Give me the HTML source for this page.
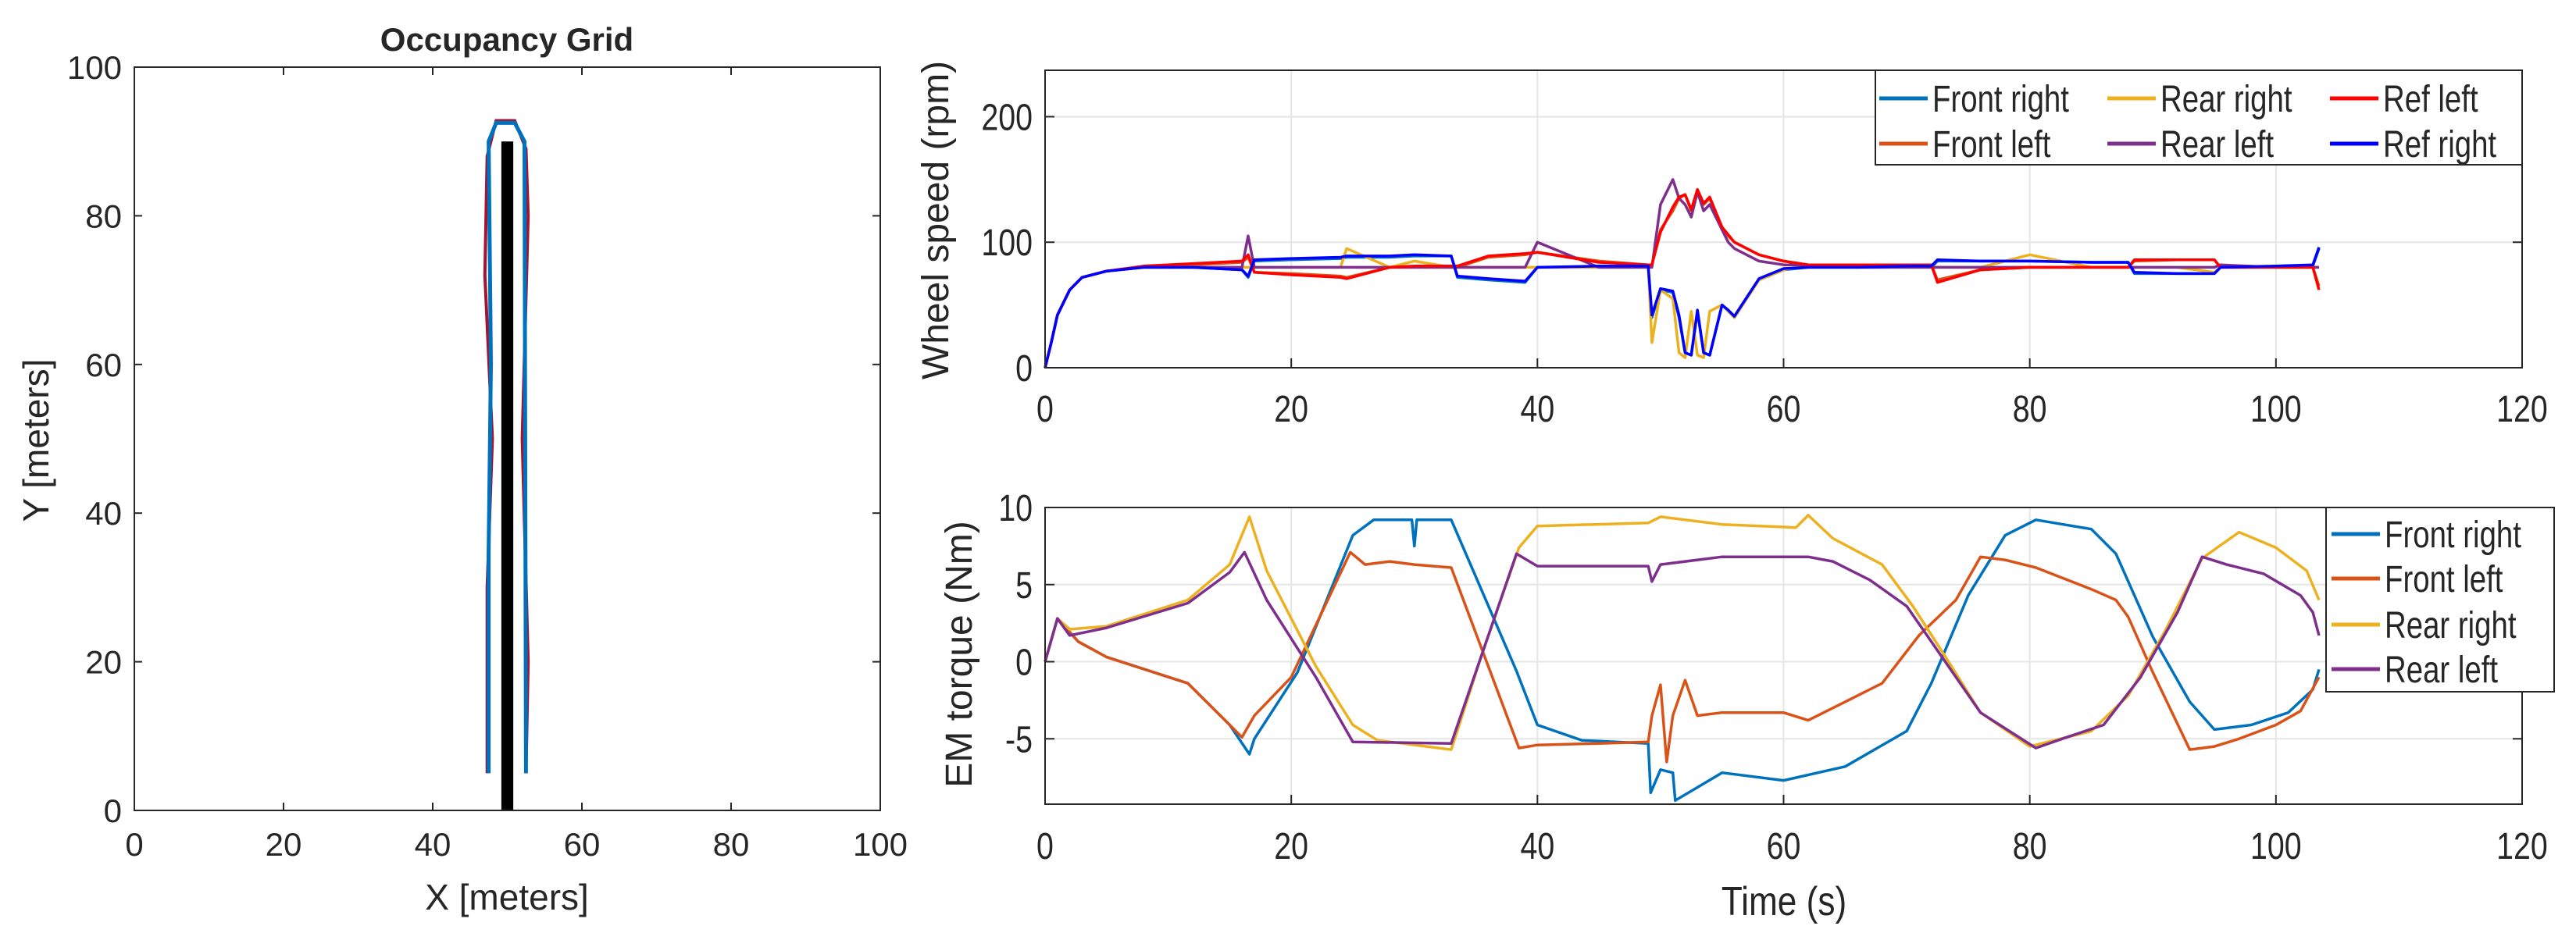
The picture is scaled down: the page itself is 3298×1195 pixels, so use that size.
<!DOCTYPE html>
<html><head><meta charset="utf-8">
<style>html,body{margin:0;padding:0;background:#fff;}svg{display:block;}
text{font-family:"Liberation Sans",Arial,sans-serif;fill:#262626;}</style></head>
<body>
<svg id="fig" width="3298" height="1195" viewBox="0 0 3298 1195" xmlns="http://www.w3.org/2000/svg">
<rect width="3298" height="1195" fill="#fff"/>
<g id="occ"></g>
<g id="ws"></g>
<g id="tq"></g>
</svg>
<script>
// ---------- Occupancy grid data ----------
const occTicks = [0,20,40,60,80,100];
const obstacleX = [49.2,50.8]; const obstacleY = [0,90];
const bluePathX = [47.5,47.5,47.8,47.5,48.5,51,52.3,52.4,52.5];
const bluePathY = [5,35,60,90,92.5,92.5,90,50,5];
const redPathX = [47.3,47.3,48,47,47.3,48.5,51,52.5,52.8,52,52.8,52.5];
const redPathY = [5,30,50,72,88,92.8,92.8,89,80,50,20,5];

// ---------- Wheel speed data ----------
const wsTicksX = [0,20,40,60,80,100,120];
const wsTicksY = [0,100,200];
const wsTime = [0,0.5,1,2,3,5,8,12,16,16.5,17,20,24,24.5,28,30,33,33.5,36,39,40,45,49,49.3,50,51,51.5,52,52.5,53,53.5,54,55,55.5,56,58,60,62,66,70,72,72.5,76,80,85,88,88.5,92,95,95.5,100,103,103.5];
const wsFrontRight = [0,20,42,62,72,77,80,80,78,72,85,86,87,88,88,89,89,72,70,68,80,80,80,40,62,60,40,12,10,45,12,10,50,45,40,70,78,80,80,80,80,85,85,85,84,84,75,75,75,80,80,81,95];
const wsRefRight   = [0,20,42,62,72,77,80,80,78,73,86,87,88,89,89,90,89,73,71,69,80,81,81,42,63,61,42,12,10,46,12,10,50,46,41,71,79,80,80,81,81,86,85,85,84,84,76,75,75,80,81,82,96];
const wsFrontLeft  = [0,20,42,62,72,77,80,82,84,88,76,75,73,72,80,80,80,80,88,90,92,85,82,82,110,125,135,138,125,140,130,135,110,105,100,90,85,82,82,82,82,70,78,80,80,80,85,86,86,80,80,80,65];
const wsRefLeft    = [0,20,42,62,72,77,81,83,85,90,76,74,72,71,80,81,81,81,89,91,92,84,82,82,108,128,136,138,126,142,131,136,112,106,100,90,85,82,82,82,82,68,78,80,80,80,86,86,86,80,80,80,62];
const wsRearRight  = [0,20,42,62,72,77,80,80,80,80,80,80,80,95,80,85,80,80,80,80,80,80,80,20,62,55,12,8,45,10,8,45,50,45,40,70,78,82,82,80,80,80,80,90,80,80,80,80,76,80,80,80,80];
const wsRearLeft   = [0,20,42,62,72,77,80,80,80,105,80,80,80,80,80,80,80,80,80,80,100,80,80,80,130,150,135,130,120,140,125,130,110,100,95,85,82,82,80,80,80,80,80,80,80,80,80,80,80,82,80,80,80];

// ---------- Torque data ----------
const tqTicksX = [0,20,40,60,80,100,120];
const tqTicksY = [-5,0,5,10];
const tqFRt = [0,1,2.7,5,11.6,15,16.6,17,20.5,25,26.7,29.8,30,30.2,33,38.3,40,43.6,49,49.2,50,51,51.2,55,60,65,70,72,75,78,80.5,85,87,90,93,95,98,101,103,103.5];
const tqFRv = [0,2.8,1.3,0.3,-1.4,-4.1,-6,-5,-0.7,8.2,9.2,9.2,7.5,9.2,9.2,-0.6,-4.1,-5.1,-5.3,-8.5,-7,-7.2,-9,-7.2,-7.7,-6.8,-4.5,-1.4,4.3,8.2,9.2,8.6,7,1.6,-2.6,-4.4,-4.1,-3.3,-1.8,-0.5];
const tqFLt = [0,1,2.7,5,11.6,15,16,17,20,24.8,26,28,30,33,38.5,40,45,49,49.3,50,50.5,51,52,53,55,60,62,65,68,71,74,76,78,80.5,85,87,88,90,93,95,97,100,102,103.5];
const tqFLv = [0,2.8,1.3,0.3,-1.4,-4.1,-4.9,-3.5,-1,7.1,6.3,6.5,6.3,6.1,-5.6,-5.4,-5.3,-5.2,-3.5,-1.5,-6.5,-3.5,-1.2,-3.5,-3.3,-3.3,-3.8,-2.6,-1.4,1.7,4,6.8,6.6,6.1,4.7,4,2.9,-0.7,-5.7,-5.5,-5,-4.1,-3.2,-1];
const tqRRt = [0,1,2,5,11.6,15,16.6,18,22,25,27,33,35.5,38.5,40,49,50,52,55,61,62,64,68,70.5,73,76,80,85,88,91,94,97,100,102.5,103.5];
const tqRRv = [0,2.8,2.1,2.3,4,6.3,9.4,5.9,-0.3,-4.1,-5.1,-5.7,0.5,7.4,8.8,9,9.4,9.2,8.9,8.7,9.5,8,6.3,3.6,0.5,-3.3,-5.5,-4.5,-2.2,2,6.7,8.4,7.4,5.9,4];
const tqRLt = [0,1,2,5,11.6,15,16.2,18,22,25,33,35.5,38.3,40,45,49,49.3,50,55,62,64,67,70,72,76,80.5,83,86,89,92,94,96,99,102,103,103.5];
const tqRLv = [0,2.8,1.7,2.2,3.8,5.8,7.1,4,-1,-5.2,-5.3,0.5,7,6.2,6.2,6.2,5.2,6.3,6.8,6.8,6.5,5.3,3.6,1.3,-3.3,-5.6,-4.9,-4.1,-1,3.2,6.8,6.3,5.7,4.3,3.2,1.7];

const NS = "http://www.w3.org/2000/svg";
function mk(parent, tag, attrs, txt){const e=document.createElementNS(NS,tag);for(const k in attrs)e.setAttribute(k,attrs[k]);if(txt!==undefined)e.textContent=txt;parent.appendChild(e);return e;}
function scale(d0,d1,r0,r1){return v=>r0+(v-d0)/(d1-d0)*(r1-r0);}
function pathD(xs,ys,sx,sy){return xs.map((x,i)=>(i?'L':'M')+sx(x).toFixed(1)+','+sy(ys[i]).toFixed(1)).join('');}

// ---------- Occupancy grid ----------
(function(){
  const g=document.getElementById('occ');
  const L=172,R=1127,T=86,B=1038;
  const sx=scale(0,100,L,R), sy=scale(0,100,B,T);
  const ob=mk(g,'rect',{x:sx(obstacleX[0]),y:sy(obstacleY[1]),width:sx(obstacleX[1])-sx(obstacleX[0]),height:sy(obstacleY[0])-sy(obstacleY[1]),fill:'#000'});
  
  const rp=mk(g,'path',{d:pathD(redPathX,redPathY,sx,sy),fill:'none',stroke:'#A2142F',"stroke-width":4});
  
  const bp=mk(g,'path',{d:pathD(bluePathX,bluePathY,sx,sy),fill:'none',stroke:'#0072BD',"stroke-width":5});
  
  const box=mk(g,'rect',{x:L,y:T,width:R-L,height:B-T,fill:'none',stroke:'#262626',"stroke-width":2});
  
  occTicks.forEach(v=>{
    mk(g,'line',{x1:sx(v),x2:sx(v),y1:B,y2:B-10,stroke:'#262626','stroke-width':2});
    mk(g,'line',{x1:sx(v),x2:sx(v),y1:T,y2:T+10,stroke:'#262626','stroke-width':2});
    mk(g,'line',{x1:L,x2:L+10,y1:sy(v),y2:sy(v),stroke:'#262626','stroke-width':2});
    mk(g,'line',{x1:R,x2:R-10,y1:sy(v),y2:sy(v),stroke:'#262626','stroke-width':2});
    const tx=mk(g,'text',{x:sx(v),y:B+58,'font-size':42,'text-anchor':'middle'},v);
    
    const ty=mk(g,'text',{x:L-16,y:sy(v)+15,'font-size':42,'text-anchor':'end'},v);
    
  });
  const t=mk(g,'text',{x:649,y:65,'font-size':42,'font-weight':'bold','text-anchor':'middle',fill:'#000'},'Occupancy Grid');
  
  const xl=mk(g,'text',{x:649,y:1165,'font-size':46,'text-anchor':'middle'},'X [meters]');
  
  const yl=mk(g,'text',{x:0,y:0,'font-size':46,'text-anchor':'middle',transform:'translate(62,564) rotate(-90)'},'Y [meters]');
  
})();

function axes(g,L,R,T,B,xmin,xmax,ymin,ymax,ticksX,ticksY,xlabY){
  const sx=scale(xmin,xmax,L,R), sy=scale(ymin,ymax,B,T);
  mk(g,'rect',{x:L,y:T,width:R-L,height:B-T,fill:'#fff'});
  ticksX.forEach(v=>{if(v>xmin&&v<xmax)mk(g,'line',{x1:sx(v),x2:sx(v),y1:T,y2:B,stroke:'#e6e6e6','stroke-width':2});});
  ticksY.forEach(v=>{if(v>ymin&&v<ymax)mk(g,'line',{x1:L,x2:R,y1:sy(v),y2:sy(v),stroke:'#e6e6e6','stroke-width':2});});
  return {sx,sy,finish(){
    mk(g,'rect',{x:L,y:T,width:R-L,height:B-T,fill:'none',stroke:'#262626','stroke-width':2});
    ticksX.forEach(v=>{
      mk(g,'line',{x1:sx(v),x2:sx(v),y1:B,y2:B-12,stroke:'#262626','stroke-width':2});
      const tx=mk(g,'text',{x:0,y:0,'font-size':48,'text-anchor':'middle',transform:`translate(${sx(v)},${xlabY}) scale(0.82,1)`},v);
      
    });
    ticksY.forEach(v=>{
      mk(g,'line',{x1:L,x2:L+12,y1:sy(v),y2:sy(v),stroke:'#262626','stroke-width':2});
      mk(g,'line',{x1:R,x2:R-12,y1:sy(v),y2:sy(v),stroke:'#262626','stroke-width':2});
      const ty=mk(g,'text',{x:0,y:0,'font-size':48,'text-anchor':'end',transform:`translate(${L-16},${sy(v)+17}) scale(0.82,1)`},v);
      
    });
  }};
}
function legend(g,x,y,w,h,items,positions){
  const lg=mk(g,'g',{});
  
  mk(lg,'rect',{x:x,y:y,width:w,height:h,fill:'#fff',stroke:'#262626','stroke-width':2});
  items.forEach((it,i)=>{
    const p=positions[i];
    const e=mk(lg,'g',{});
    
    mk(e,'line',{x1:p[0],x2:p[0]+62,y1:p[1],y2:p[1],stroke:it[1],'stroke-width':5});
    mk(e,'text',{x:0,y:0,'font-size':48,transform:`translate(${p[0]+68},${p[1]+17}) scale(0.8,1)`,fill:'#000'},it[0]);
  });
}

// ---------- Wheel speed ----------
(function(){
  const g=document.getElementById('ws');
  const a=axes(g,1338,3229,90,471,0,120,0,237,wsTicksX,wsTicksY,540);
  const series=[['Front right',wsFrontRight,'#0072BD'],['Front left',wsFrontLeft,'#D95319'],['Rear right',wsRearRight,'#EDB120'],['Rear left',wsRearLeft,'#7E2F8E'],['Ref left',wsRefLeft,'#FF0000'],['Ref right',wsRefRight,'#0000FF']];
  series.forEach(s=>{
    const p=mk(g,'path',{d:pathD(wsTime,s[1],a.sx,a.sy),fill:'none',stroke:s[2],'stroke-width':3.5,'stroke-linejoin':'round'});
    
    
  });
  a.finish();
  legend(g,2401,90,828,121,[['Front right','#0072BD'],['Front left','#D95319'],['Rear right','#EDB120'],['Rear left','#7E2F8E'],['Ref left','#FF0000'],['Ref right','#0000FF']],
    [[2406,126],[2406,184],[2698,126],[2698,184],[2983,126],[2983,184]]);
  const yl=mk(g,'text',{x:0,y:0,'font-size':48,'text-anchor':'middle',transform:'translate(1214,282) rotate(-90)'},'Wheel speed (rpm)');
  
})();

// ---------- Torque ----------
(function(){
  const g=document.getElementById('tq');
  const a=axes(g,1338,3229,650,1030,0,120,-9.24,10,tqTicksX,tqTicksY,1100);
  const series=[['Front right',tqFRt,tqFRv,'#0072BD'],['Front left',tqFLt,tqFLv,'#D95319'],['Rear right',tqRRt,tqRRv,'#EDB120'],['Rear left',tqRLt,tqRLv,'#7E2F8E']];
  series.forEach(s=>{
    const p=mk(g,'path',{d:pathD(s[1],s[2],a.sx,a.sy),fill:'none',stroke:s[3],'stroke-width':3.5,'stroke-linejoin':'round'});
    
    
  });
  a.finish();
  legend(g,2978,650,292,236,[['Front right','#0072BD'],['Front left','#D95319'],['Rear right','#EDB120'],['Rear left','#7E2F8E']],
    [[2985,684],[2985,741],[2985,800],[2985,857]]);
  const yl=mk(g,'text',{x:0,y:0,'font-size':48,'text-anchor':'middle',transform:'translate(1244,838) rotate(-90)'},'EM torque (Nm)');
  
  const xl=mk(g,'text',{x:0,y:0,'font-size':52,'text-anchor':'middle',transform:'translate(2284,1172) scale(0.85,1)'},'Time (s)');
  
})();
</script>
</body></html>
